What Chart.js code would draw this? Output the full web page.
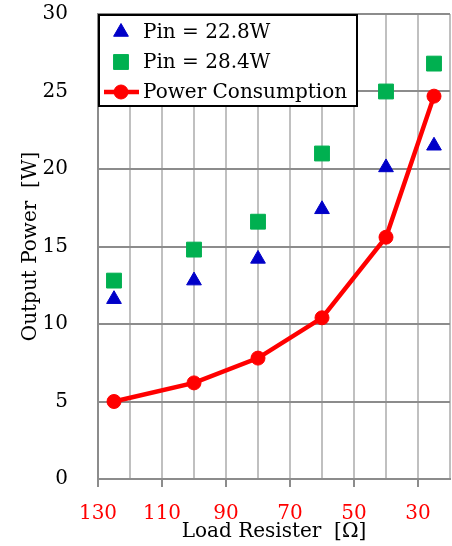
<!DOCTYPE html>
<html>
<head>
<meta charset="utf-8">
<script src="https://cdn.jsdelivr.net/npm/chart.js@4/dist/chart.umd.min.js"></script>
<style>
  html, body { margin: 0; padding: 0; background: #fff; }
  #wrap { width: 452px; height: 546px; }
</style>
</head>
<body>
<div id="wrap"><canvas id="c" width="452" height="546"></canvas></div>
<script>
// Load resistance [Ω] for each measurement
const loadResistance = [125, 100, 80, 60, 40, 25];
// Output power [W] at two input power levels
const outPin228 = [11.6, 12.8, 14.2, 17.4, 20.1, 21.5];
const outPin284 = [12.8, 14.8, 16.6, 21.0, 25.0, 26.8];
// Power consumption [W]
const consumption = [5.0, 6.2, 7.8, 10.4, 15.6, 24.7];
// Labelled ticks on the resistance axis
const xTickLabels = [130, 110, 90, 70, 50, 30];
const seriesNames = ['Pin = 22.8W', 'Pin = 28.4W', 'Power Consumption'];

const FONT = '"DejaVu Serif", serif';
const toXY = (ys) => ys.map((y, i) => ({ x: loadResistance[i], y }));

// Boxed legend drawn inside the plot's top-left corner
const boxLegend = {
  id: 'boxLegend',
  afterDraw(chart) {
    const ctx = chart.ctx;
    const area = chart.chartArea;
    const x0 = area.left, y0 = area.top, w = 260, h = 93;
    ctx.save();
    ctx.fillStyle = '#fff';
    ctx.fillRect(x0, y0, w, h);
    ctx.lineWidth = 2;
    ctx.strokeStyle = '#000';
    ctx.strokeRect(x0 + 1, y0 + 1, w - 2, h - 2);
    chart.data.datasets.forEach((ds, i) => {
      const cy = y0 + 18 + i * 30;
      const mx = x0 + 23;
      if (ds.showLine) {
        ctx.strokeStyle = ds.borderColor;
        ctx.lineWidth = ds.borderWidth;
        ctx.beginPath();
        ctx.moveTo(x0 + 6, cy);
        ctx.lineTo(x0 + 41, cy);
        ctx.stroke();
      }
      ctx.fillStyle = ds.pointBackgroundColor;
      ctx.strokeStyle = ds.pointBorderColor;
      ctx.lineWidth = ds.pointBorderWidth;
      Chart.helpers.drawPoint(ctx, {
        pointStyle: ds.pointStyle,
        radius: ds.pointRadius,
        borderWidth: ds.pointBorderWidth,
        rotation: 0
      }, mx, cy);
      ctx.fillStyle = '#000';
      ctx.font = '20px ' + FONT;
      ctx.textAlign = 'left';
      ctx.textBaseline = 'middle';
      ctx.fillText(ds.label, x0 + 45, cy + 1);
    });
    ctx.restore();
  }
};

new Chart(document.getElementById('c'), {
  type: 'scatter',
  data: {
    datasets: [
      {
        label: seriesNames[0],
        data: toXY(outPin228),
        showLine: false,
        pointStyle: 'triangle',
        pointRadius: 8.5,
        pointBackgroundColor: '#0000c8',
        pointBorderColor: '#0000c8',
        pointBorderWidth: 1,
        clip: false,
        order: 2
      },
      {
        label: seriesNames[1],
        data: toXY(outPin284),
        showLine: false,
        pointStyle: 'rect',
        pointRadius: 10.5,
        pointBackgroundColor: '#00b050',
        pointBorderColor: '#00b050',
        pointBorderWidth: 1,
        clip: false,
        order: 3
      },
      {
        label: seriesNames[2],
        data: toXY(consumption),
        showLine: true,
        borderColor: '#ff0000',
        borderWidth: 4.5,
        pointStyle: 'circle',
        pointRadius: 7,
        pointBackgroundColor: '#ff0000',
        pointBorderColor: '#ff0000',
        pointBorderWidth: 1,
        clip: false,
        order: 1
      }
    ]
  },
  options: {
    responsive: false,
    animation: false,
    devicePixelRatio: 1,
    layout: { autoPadding: false, padding: { top: 14, right: 2, left: 0, bottom: 0 } },
    plugins: { legend: { display: false }, tooltip: { enabled: false } },
    scales: {
      x: {
        type: 'linear',
        reverse: true,
        min: 20,
        max: 130,
        afterFit(scale) {
          scale.height = 67;
          scale.paddingLeft = 0;
          scale.paddingRight = 0;
        },
        ticks: {
          stepSize: 10,
          color: '#ff0000',
          font: { family: FONT, size: 20 },
          padding: 15,
          maxRotation: 0,
          autoSkip: false,
          callback: (v) => xTickLabels.includes(v) ? String(v) : ''
        },
        grid: {
          color: '#c0c0c0',
          lineWidth: 2,
          tickLength: 8,
          tickColor: (c) => (c.tick && xTickLabels.includes(c.tick.value)) ? '#8c8c8c' : 'rgba(0,0,0,0)'
        },
        border: { color: '#8c8c8c', width: 2 },
        title: {
          display: true,
          text: 'Load Resister  [Ω]',
          color: '#000',
          font: { family: FONT, size: 20 },
          padding: { top: 0, bottom: 2 }
        }
      },
      y: {
        min: 0,
        max: 30,
        afterFit(scale) {
          scale.width = 98;
          scale.paddingTop = 0;
          scale.paddingBottom = 0;
        },
        ticks: {
          stepSize: 5,
          color: '#000',
          font: { family: FONT, size: 20 },
          padding: 30
        },
        grid: { color: '#8c8c8c', lineWidth: 2, drawTicks: false },
        border: { color: '#8c8c8c', width: 2 },
        title: {
          display: true,
          text: 'Output Power  [W]',
          color: '#000',
          font: { family: FONT, size: 20 },
          padding: { top: 19, bottom: 0 }
        }
      }
    }
  },
  plugins: [boxLegend]
});
</script>
</body>
</html>
